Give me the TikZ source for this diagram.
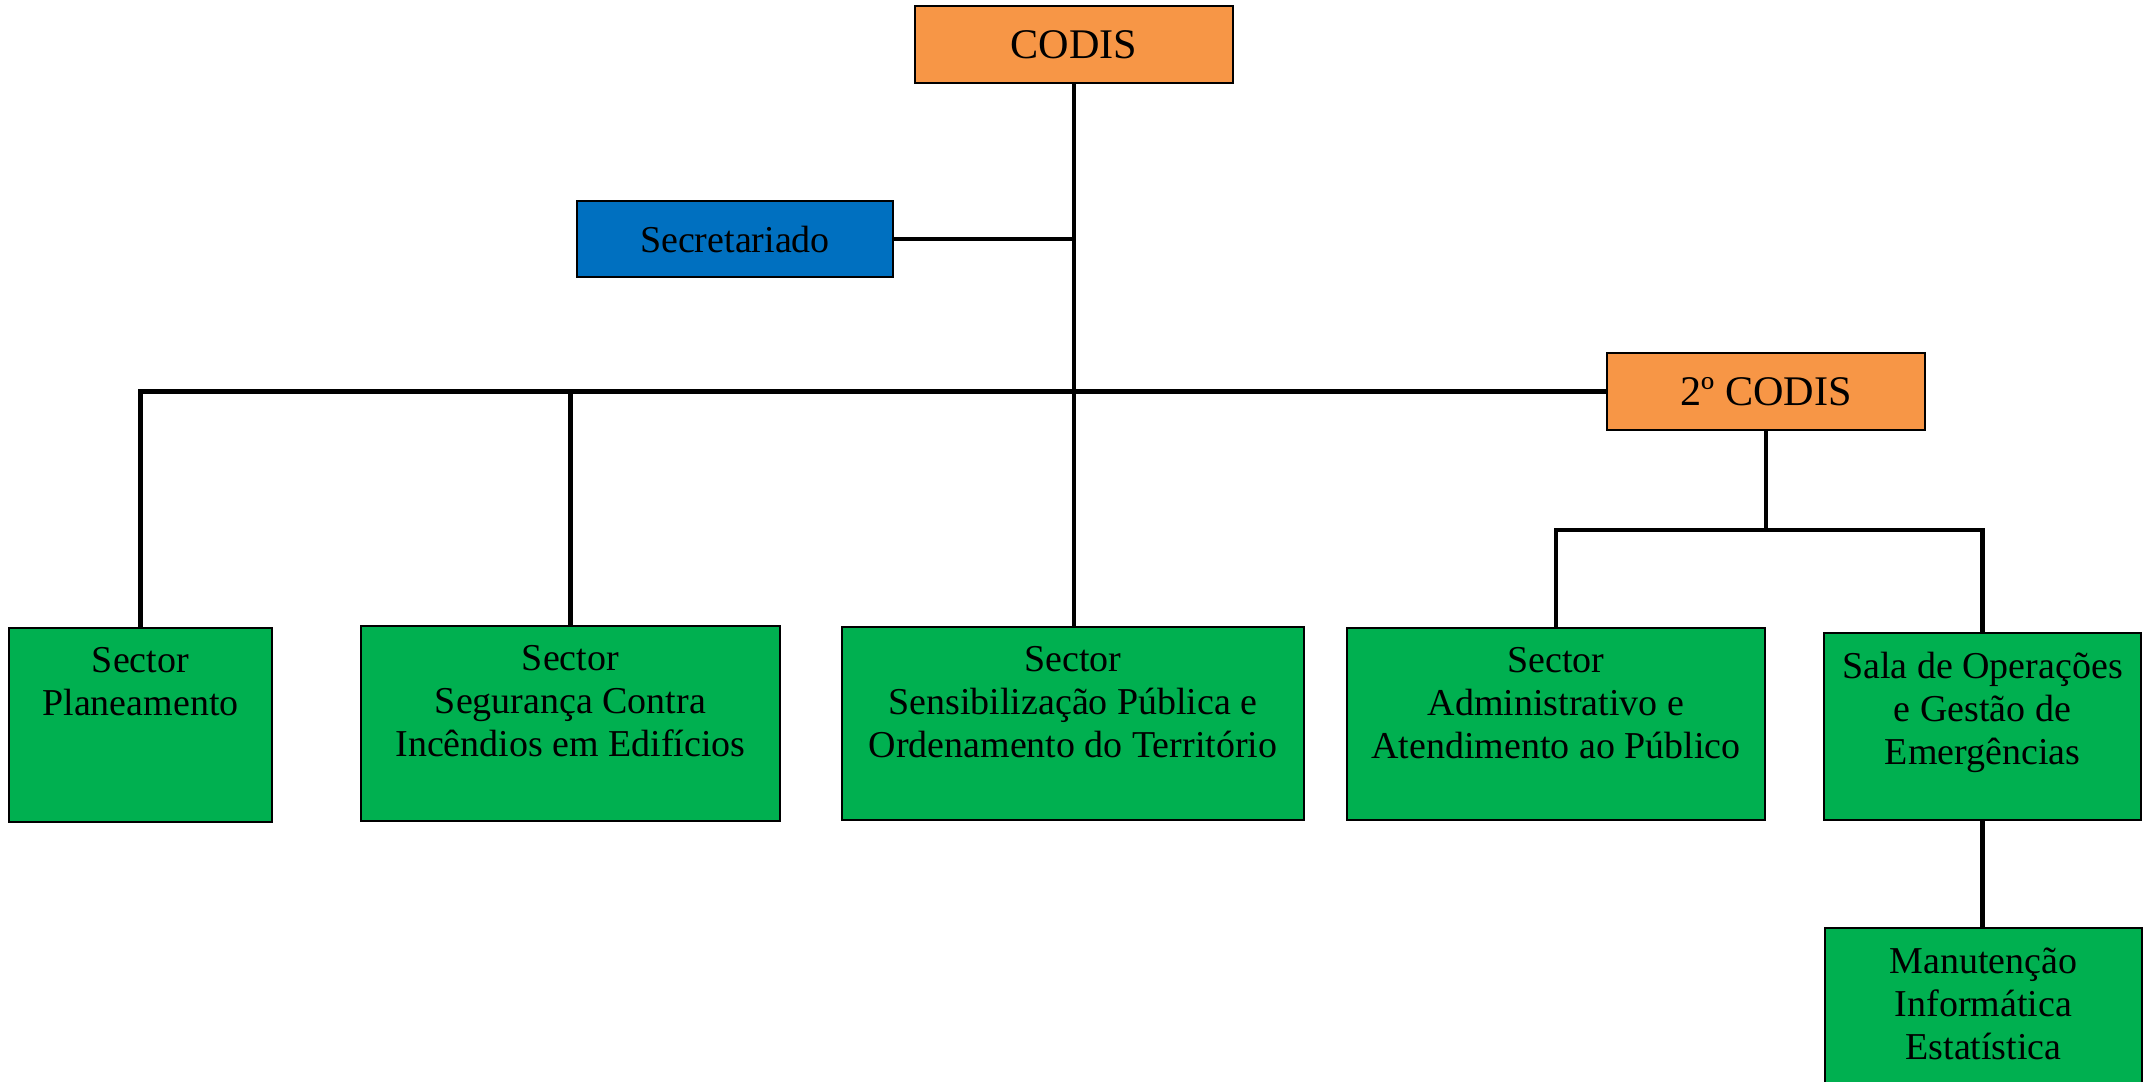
\documentclass[tikz,border=0pt]{standalone}
\usepackage{fontspec}
\setmainfont{Liberation Serif}
\usetikzlibrary{positioning}
\definecolor{codisorange}{HTML}{F79646}
\definecolor{secblue}{HTML}{0070C0}
\definecolor{sectgreen}{HTML}{00B050}
\tikzset{
  unitbox/.style={draw=black, line width=0.6pt, inner sep=0pt},
  headbox/.style={unitbox, fill=codisorange, minimum width=3.18cm, minimum height=0.77cm,
    font=\fontsize{12}{14}\selectfont},
  secbox/.style={unitbox, fill=secblue, minimum width=3.16cm, minimum height=0.76cm,
    font=\fontsize{10.8}{12.2}\selectfont},
  sectbox/.style={unitbox, fill=sectgreen},
  sectlabel/.style={inner sep=0pt, align=center, font=\fontsize{10.8}{12.2}\selectfont},
  link/.style={line width=1.35pt}
}
\begin{document}
\begin{tikzpicture}[x=0.01cm,y=-0.01cm]
  \useasboundingbox (0,0) rectangle (2154,1081);
  \clip (0,0) rectangle (2154,1081);
  % top of the chart
  \node[headbox] (codis) at (1074,44.5) {CODIS};
  \node[secbox] (secr) at (735,239) {Secretariado};
  \node[headbox] (codis2) at (1766,391.5) {2º CODIS};
  % sectors
  \node[sectbox, minimum width=2.63cm, minimum height=1.94cm] (plan) at (140.5,725) {};
  \node[sectbox, minimum width=4.19cm, minimum height=1.95cm] (seg) at (570.5,723.5) {};
  \node[sectbox, minimum width=4.62cm, minimum height=1.93cm] (sens) at (1073,723.5) {};
  \node[sectbox, minimum width=4.18cm, minimum height=1.92cm] (adm) at (1556,724) {};
  \node[sectbox, minimum width=3.17cm, minimum height=1.87cm] (sala) at (1982.5,726.5) {};
  \node[sectbox, minimum width=3.17cm, minimum height=2.00cm] (manut) at (1983.5,1028) {};
  \foreach \sect/\txt in {plan/{Sector\\Planeamento},
      seg/{Sector\\Segurança Contra\\Incêndios em Edifícios},
      sens/{Sector\\Sensibilização Pública e\\Ordenamento do Território},
      adm/{Sector\\Administrativo e\\Atendimento ao Público},
      sala/{Sala de Operações\\e Gestão de\\Emergências},
      manut/{Manutenção\\Informática\\Estatística}}
    \node[sectlabel, below=0.2cm of \sect.north] (\sect-text) {\txt};
  % connectors
  \draw[link] (codis.south) -- (codis.south |- sens.north);
  \draw[link] (secr.east) -- (secr.east -| codis.south);
  \draw[link] (plan.north) |- (codis2.west);
  \draw[link] (seg.north) -- (seg.north |- codis2.west);
  \coordinate (subbar) at (1766,530);
  \draw[link] (codis2.south) -- (subbar);
  \draw[link] (adm.north) |- (subbar) -| (sala.north);
  \draw[link] (sala.south) -- (sala.south |- manut.north);
\end{tikzpicture}
\end{document}
